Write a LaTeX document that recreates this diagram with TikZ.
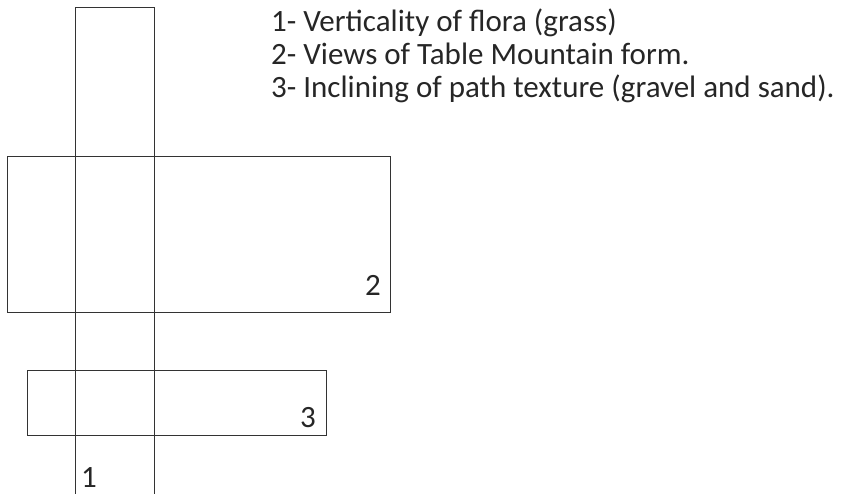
\documentclass[tikz,border=0pt]{standalone}
\usepackage{fontspec}
\setmainfont{Carlito}
\usepackage{tikz}
\usetikzlibrary{positioning}

\begin{document}
\begin{tikzpicture}[x=1bp, y=-1bp,
  box/.style={draw=black!80, line width=1bp},
  lbl/.style={font=\fontsize{31bp}{34bp}\selectfont, anchor=base west, inner sep=0pt, text=black!85},
]
\useasboundingbox (0,0) rectangle (847,494);
% Vertical strip (open at the bottom)
\draw[box] (75,494) -- (75,8) -- (154,8) -- (154,494);
% Wide view band and path band
\draw[box] (7,157) rectangle (390,312);
\draw[box] (27,370) rectangle (326,435);

% Numbers inside the bands
\node[lbl] (n1) at (81,487) {1};
\node[lbl] (n2) at (365,296) {2};
\node[lbl] (n3) at (300,427) {3};

% Legend
\node[lbl] (l1) at (271,32) {1- Verticality of flora (grass)};
\node[lbl] (l2) at (271,65) {2- Views of Table Mountain form.};
\node[lbl] (l3) at (271,98) {3- Inclining of path texture (gravel and sand).};
\end{tikzpicture}
\end{document}
